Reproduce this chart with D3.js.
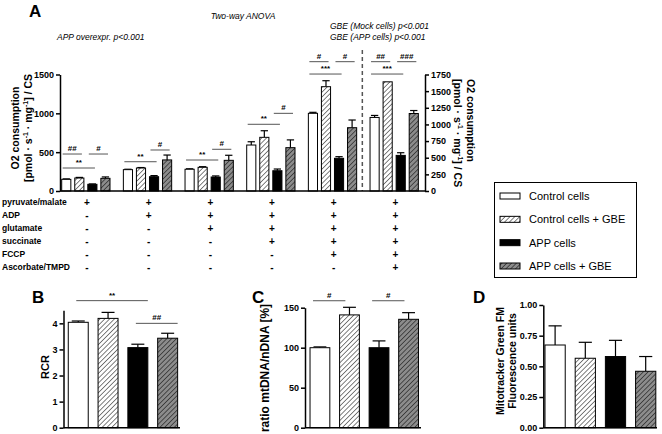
<!DOCTYPE html>
<html>
<head>
<meta charset="utf-8">
<script src="https://cdn.jsdelivr.net/npm/d3@7"></script>
<style>
    body { margin: 0; background: #fff; }
    text { font-family: "Liberation Sans", Arial, sans-serif; }
    .axis text { font-size: 9px; font-weight: bold; fill: #000; }
    .axis path, .axis line { stroke: #000; stroke-width: 1.5px; }
</style>
</head>
<body>
<div id="chart"></div>
<script>

// ---- data ----
const seriesNames = ["Control cells", "Control cells + GBE", "APP cells", "APP cells + GBE"];

// panel A: six respiration states, four bars each (last state read on right axis)
const statesA = ["s1", "s2", "s3", "s4", "s5", "s6"];
const meanA = [
    [150, 167, 86, 163],
    [275, 296, 184, 400],
    [280, 305, 180, 395],
    [592, 691, 261, 558],
    [1000, 1343, 421, 815],
    [1105, 1640, 535, 1164]
];
const errA = [
    [6, 8, 5, 18],
    [5, 6, 14, 63],
    [6, 8, 14, 65],
    [42, 85, 22, 100],
    [13, 77, 21, 99],
    [30, 0, 40, 45]
];
const leftTicksA = [0, 500, 1000, 1500];
const rightTicksA = [0, 250, 500, 750, 1000, 1250, 1500, 1750];
// [state, from bar, to bar, level (left axis units), label]
const sigA = [
    [0, 0, 1, 476, "##"], [0, 2, 3, 476, "#"], [0, 0, 2, 296, "**"],
    [1, 0, 2, 377, "**"], [1, 2, 3, 528, "#"],
    [2, 0, 2, 399, "**"], [2, 2, 3, 537, "#"],
    [3, 0, 2, 859, "**"], [3, 2, 3, 1000, "#"],
    [4, 0, 2, 1506, "***"], [4, 0, 1, 1665, "#"], [4, 2, 3, 1665, "#"],
    [5, 0, 2, 1506, "***"], [5, 0, 1, 1665, "##"], [5, 2, 3, 1665, "###"]
];
const treatments = ["pyruvate/malate", "ADP", "glutamate", "succinate", "FCCP", "Ascorbate/TMPD"];
const treatmentSigns = [
    ["+", "+", "+", "+", "+", "+"],
    ["-", "+", "+", "+", "+", "+"],
    ["-", "-", "+", "+", "+", "+"],
    ["-", "-", "-", "+", "+", "+"],
    ["-", "-", "-", "-", "+", "+"],
    ["-", "-", "-", "-", "-", "+"]
];

// panel B: RCR
const meanB = [4.04, 4.19, 3.07, 3.43];
const errB = [0.05, 0.23, 0.13, 0.19];
const ticksB = [0, 1, 2, 3, 4];
const sigB = [[0, 2, 4.87, "**"], [2, 3, 4.0, "##"]];

// panel C: mtDNA/nDNA
const meanC = [100, 141, 100, 135.5];
const errC = [1, 9.5, 8.5, 8.3];
const ticksC = [0, 50, 100, 150];
const sigC = [[0, 1, 158.7, "#"], [2, 3, 158.7, "#"]];

// panel D: Mitotracker
const meanD = [0.674, 0.566, 0.58, 0.46];
const errD = [0.156, 0.13, 0.132, 0.12];
const ticksD = [0, 0.25, 0.5, 0.75, 1.0];


// ---- drawing ----
const svg = d3.select("#chart").append("svg")
    .attr("width", 662)
    .attr("height", 434);

svg.append("rect").attr("width", 662).attr("height", 434).attr("fill", "#fff");

// hatch patterns
const defs = svg.append("defs");
function hatch(id, bg) {
    let p = defs.append("pattern")
        .attr("id", id)
        .attr("patternUnits", "userSpaceOnUse")
        .attr("width", 3.4).attr("height", 3.4)
        .attr("patternTransform", "rotate(45)");
    p.append("rect").attr("width", 3.4).attr("height", 3.4).attr("fill", bg);
    p.append("line").attr("x1", 0).attr("y1", 0).attr("x2", 0).attr("y2", 3.4)
        .attr("stroke", "#000").attr("stroke-width", 1);
}
hatch("hatchWhite", "#fff");
hatch("hatchGray", "#8c8c8c");

const fills = ["#fff", "url(#hatchWhite)", "#000", "url(#hatchGray)"];

function drawBars(g, xPos, bw, y, means, errs, capFrac) {
    means.forEach(function(m, i) {
        let x = xPos(i);
        if (errs[i] > 0) {
            g.append("line")
                .attr("x1", x + bw / 2).attr("x2", x + bw / 2)
                .attr("y1", y(m)).attr("y2", y(m + errs[i]))
                .attr("stroke", "#000").attr("stroke-width", 1.2);
            g.append("line")
                .attr("x1", x + bw / 2 - bw * capFrac / 2).attr("x2", x + bw / 2 + bw * capFrac / 2)
                .attr("y1", y(m + errs[i])).attr("y2", y(m + errs[i]))
                .attr("stroke", "#000").attr("stroke-width", 1.2);
        }
        g.append("rect")
            .attr("x", x).attr("y", y(m))
            .attr("width", bw).attr("height", y(0) - y(m))
            .attr("fill", fills[i])
            .attr("stroke", "#000").attr("stroke-width", 1);
    });
}

function sigMark(g, x1, x2, yy, label) {
    g.append("line")
        .attr("x1", x1).attr("x2", x2).attr("y1", yy).attr("y2", yy)
        .attr("stroke", "#555").attr("stroke-width", 1);
    g.append("text")
        .attr("x", (x1 + x2) / 2).attr("y", yy - 3)
        .attr("text-anchor", "middle")
        .style("font-size", "8px").style("font-weight", "bold")
        .text(label);
}

function panelLetter(x, y, t) {
    svg.append("text").attr("x", x).attr("y", y)
        .style("font-size", "17px").style("font-weight", "bold")
        .text(t);
}

function leftAxis(x, y, ticks, fmt) {
    let ax = d3.axisLeft(y).tickValues(ticks).tickSize(4).tickSizeOuter(0).tickPadding(2)
        .tickFormat(fmt || d3.format("d"));
    svg.append("g").attr("class", "axis")
        .attr("transform", `translate(${x},0)`)
        .call(ax);
}

function baseline(x1, x2, yy) {
    svg.append("line").attr("x1", x1).attr("x2", x2).attr("y1", yy).attr("y2", yy)
        .attr("stroke", "#000").attr("stroke-width", 1.5);
}

// y label with superscript "-1" parts
function unitLabel(sel) {
    sel.append("tspan").text("[pmol · s");
    sel.append("tspan").attr("dy", -4).style("font-size", "7px").text("-1");
    sel.append("tspan").attr("dy", 4).text(" · mg");
    sel.append("tspan").attr("dy", -4).style("font-size", "7px").text("-1");
    sel.append("tspan").attr("dy", 4).text("] / CS");
}

/* ---------- Panel A ---------- */
const yA = d3.scaleLinear().domain([0, 1500]).range([191, 74.5]);
const yAR = d3.scaleLinear().domain([0, 1750]).range([191, 74.5]);
const x0A = d3.scaleBand().domain(statesA).range([60, 430]);
const x1A = d3.scaleBand().domain(d3.range(4)).range([1.7, 50]).paddingInner(0.3);
const bwA = x1A.bandwidth();

panelLetter(29, 17, "A");

svg.append("text").attr("x", 243).attr("y", 19).attr("text-anchor", "middle")
    .style("font-size", "8.5px").style("font-style", "italic").text("Two-way ANOVA");
svg.append("text").attr("x", 57).attr("y", 40)
    .style("font-size", "8.5px").style("font-style", "italic").text("APP overexpr. p<0.001");
svg.append("text").attr("x", 330).attr("y", 29)
    .style("font-size", "8.5px").style("font-style", "italic").text("GBE (Mock cells) p<0.001");
svg.append("text").attr("x", 330).attr("y", 40)
    .style("font-size", "8.5px").style("font-style", "italic").text("GBE (APP cells) p<0.001");

const gA = svg.append("g");
statesA.forEach(function(s, si) {
    let y = si === 5 ? yAR : yA;
    drawBars(gA, i => x0A(s) + x1A(i), bwA, y, meanA[si], errA[si], 0.8);
});

sigA.forEach(function(d) {
    let gx = x0A(statesA[d[0]]);
    sigMark(gA, gx + x1A(d[1]) + 1, gx + x1A(d[2]) + bwA - 2, yA(d[3]), d[4]);
});

// dashed separator before the last state
svg.append("line")
    .attr("x1", x0A("s6") - 6).attr("x2", x0A("s6") - 6)
    .attr("y1", 50).attr("y2", 191)
    .attr("stroke", "#555").attr("stroke-width", 1.5)
    .attr("stroke-dasharray", "4,3");

leftAxis(60, yA, leftTicksA);
svg.append("g").attr("class", "axis")
    .attr("transform", "translate(425,0)")
    .call(d3.axisRight(yAR).tickValues(rightTicksA).tickSize(4).tickSizeOuter(0).tickPadding(2)
        .tickFormat(d3.format("d")));
baseline(60, 425, 191);

// y labels panel A
svg.append("text")
    .attr("transform", "translate(19,128) rotate(-90)")
    .attr("text-anchor", "middle")
    .style("font-size", "10.5px").style("font-weight", "bold")
    .text("O2 consumption");
unitLabel(svg.append("text")
    .attr("transform", "translate(32,128) rotate(-90)")
    .attr("text-anchor", "middle")
    .style("font-size", "10.5px").style("font-weight", "bold"));

svg.append("text")
    .attr("transform", "translate(467,79) rotate(90)")
    .style("font-size", "10.5px").style("font-weight", "bold")
    .text("O2 consumption");
unitLabel(svg.append("text")
    .attr("transform", "translate(454,79) rotate(90)")
    .style("font-size", "10.5px").style("font-weight", "bold"));

// treatment table
const rowY = d3.scaleBand().domain(treatments).range([195.5, 273.5]);
treatments.forEach(function(t, ri) {
    let yy = rowY(t) + rowY.bandwidth() / 2;
    svg.append("text").attr("x", 2).attr("y", yy).attr("dy", "0.35em")
        .style("font-size", "8.5px").style("font-weight", "bold").text(t);
    treatmentSigns[ri].forEach(function(sg, si) {
        svg.append("text")
            .attr("x", x0A(statesA[si]) + 27).attr("y", yy).attr("dy", "0.35em")
            .attr("text-anchor", "middle")
            .style("font-size", "10px").style("font-weight", "bold").text(sg);
    });
});

// legend
svg.append("rect").attr("x", 494.5).attr("y", 182.5).attr("width", 142).attr("height", 95)
    .attr("fill", "#fff").attr("stroke", "#000").attr("stroke-width", 1);
const legY = d3.scalePoint().domain(seriesNames).range([196, 266]);
seriesNames.forEach(function(n, i) {
    svg.append("rect").attr("x", 500).attr("y", legY(n) - 3).attr("width", 20).attr("height", 6)
        .attr("fill", fills[i]).attr("stroke", "#000").attr("stroke-width", 1);
    svg.append("text").attr("x", 529).attr("y", legY(n)).attr("dy", "0.35em")
        .style("font-size", "11px").text(n);
});

/* ---------- Panel B ---------- */
panelLetter(32, 303, "B");
const yB = d3.scaleLinear().domain([0, 4.5]).range([427.7, 310.3]);
const xB = d3.scaleBand().domain(d3.range(4)).range([63.5, 182.4]).paddingInner(0.33).paddingOuter(0.16);
const gB = svg.append("g");
drawBars(gB, i => xB(i), xB.bandwidth(), yB, meanB, errB, 0.65);
sigB.forEach(function(d) {
    sigMark(gB, xB(d[0]) + 8, xB(d[1]) + xB.bandwidth(), yB(d[2]), d[3]);
});
leftAxis(63.5, yB, ticksB);
baseline(63.5, 180, 427.7);
svg.append("text").attr("transform", "translate(49,367) rotate(-90)")
    .attr("text-anchor", "middle")
    .style("font-size", "11px").style("font-weight", "bold").text("RCR");

/* ---------- Panel C ---------- */
panelLetter(252, 303, "C");
const yC = d3.scaleLinear().domain([0, 150]).range([427.7, 307.7]);
const xC = d3.scaleBand().domain(d3.range(4)).range([305, 423.5]).paddingInner(0.33).paddingOuter(0.17);
const gC = svg.append("g");
drawBars(gC, i => xC(i), xC.bandwidth(), yC, meanC, errC, 0.65);
sigC.forEach(function(d) {
    sigMark(gC, xC(d[0]) + 3, xC(d[1]) + xC.bandwidth() - 14, yC(d[2]), d[3]);
});
leftAxis(305, yC, ticksC);
baseline(305, 421, 427.7);
svg.append("text").attr("transform", "translate(269,368) rotate(-90)")
    .attr("text-anchor", "middle")
    .style("font-size", "12px").style("font-weight", "bold").text("ratio mtDNA/nDNA [%]");

/* ---------- Panel D ---------- */
panelLetter(473, 303, "D");
const yD = d3.scaleLinear().domain([0, 1]).range([427.7, 305]);
const xD = d3.scaleBand().domain(d3.range(4)).range([543.3, 657.5]).paddingInner(0.33).paddingOuter(0.056);
const gD = svg.append("g");
drawBars(gD, i => xD(i), xD.bandwidth(), yD, meanD, errD, 0.65);
leftAxis(543.3, yD, ticksD, d3.format(".2f"));
baseline(543.3, 657, 427.7);
let labD = svg.append("text").attr("transform", "translate(504,361) rotate(-90)")
    .attr("text-anchor", "middle")
    .style("font-size", "10.5px").style("font-weight", "bold");
labD.append("tspan").attr("x", 0).attr("dy", 0).text("Mitotracker Green FM");
labD.append("tspan").attr("x", 0).attr("dy", "1.1em").text("Fluorescence units");

</script>
</body>
</html>
